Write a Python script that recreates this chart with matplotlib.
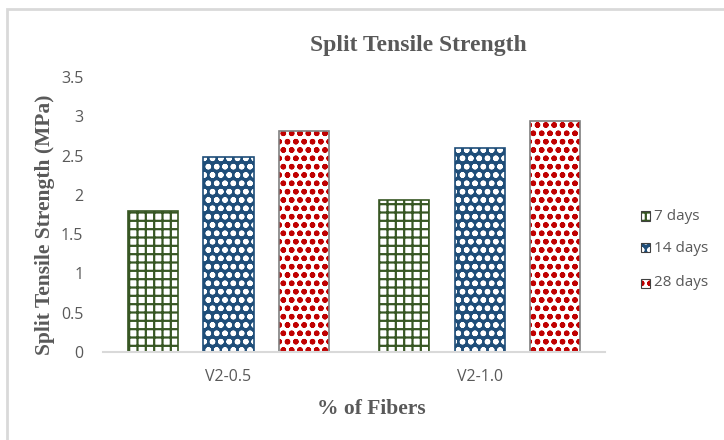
import matplotlib
matplotlib.use('Agg')
import matplotlib.pyplot as plt
import numpy as np
from matplotlib.patches import Rectangle

categories = ['V2-0.5', 'V2-1.0']
series_names = ['7 days', '14 days', '28 days']
days_7 = [1.80, 1.94]
days_14 = [2.48, 2.60]
days_28 = [2.81, 2.94]
y_ticks = [0, 0.5, 1, 1.5, 2, 2.5, 3, 3.5]
y_tick_labels = ['0', '0.5', '1', '1.5', '2', '2.5', '3', '3.5']

gray = '#595959'
plt.rcParams['hatch.linewidth'] = 1.6

fig = plt.figure(figsize=(7.24, 4.40), dpi=100)
ax = fig.add_axes([0.142, 0.2, 0.694, 0.625])

# chart frame
fig.patches.append(Rectangle((7 / 724, -0.1), 1.2, 1 - 9 / 440 + 0.1,
                             transform=fig.transFigure, fill=False,
                             edgecolor='#D9D9D9', linewidth=2))

x = np.arange(len(categories))
w = 0.2
offsets = [-0.3, 0.0, 0.3]
# (face, hatch colour, hatch, outline)
styles = [
    ('white', '#375623', '++', '#375623'),
    ('#1F4E79', 'white', 'oo', '#1F4E79'),
    ('white', '#C00000', 'oo..', '#7F7F7F'),
]
for vals, off, (face, hc, hatch, outline) in zip([days_7, days_14, days_28], offsets, styles):
    ax.bar(x + off, vals, w, color=face, edgecolor=hc, hatch=hatch, linewidth=0)
    ax.bar(x + off, vals, w, fill=False, edgecolor=outline, linewidth=1.2)

ax.set_xlim(-0.5, 1.5)
ax.set_ylim(0, 3.5)
ax.set_xticks(x)
ax.set_xticklabels(categories, color=gray, fontsize=11.5, family='Open Sans')
ax.set_yticks(y_ticks)
ax.set_yticklabels(y_tick_labels, color=gray, fontsize=11.5, family='Open Sans')
ax.tick_params(axis='x', length=0, pad=12)
ax.tick_params(axis='y', length=0, pad=14)
for s in ['top', 'right', 'left']:
    ax.spines[s].set_visible(False)
ax.spines['bottom'].set_color('#D9D9D9')
ax.spines['bottom'].set_linewidth(1.5)

fig.text(418 / 724, 1 - 45 / 440, 'Split Tensile Strength', ha='center', va='center',
         fontsize=17, fontweight='bold', family='Liberation Serif', color=gray)
fig.text(371 / 724, 1 - 409 / 440, '% of Fibers', ha='center', va='center',
         fontsize=15.5, fontweight='bold', family='Liberation Serif', color=gray)
fig.text(45 / 724, 1 - 225 / 440, 'Split Tensile Strength (MPa)', ha='center', va='center',
         rotation=90, fontsize=15.5, fontweight='bold', family='Liberation Serif', color=gray)

# legend
leg_y = [216, 248, 283]
for (face, hc, hatch, outline), name, yy in zip(styles, series_names, leg_y):
    fy = 1 - yy / 440
    fig.patches.append(Rectangle((641 / 724, fy - 4.5 / 440), 9 / 724, 9 / 440,
                                 transform=fig.transFigure, facecolor=face,
                                 edgecolor=hc, hatch=hatch, linewidth=0))
    fig.patches.append(Rectangle((641 / 724, fy - 4.5 / 440), 9 / 724, 9 / 440,
                                 transform=fig.transFigure, fill=False,
                                 edgecolor='#404040', linewidth=0.8))
    fig.text(654 / 724, fy, name, ha='left', va='center', fontsize=11,
             family='Open Sans', color=gray)

fig.savefig('out.png', dpi=100)
